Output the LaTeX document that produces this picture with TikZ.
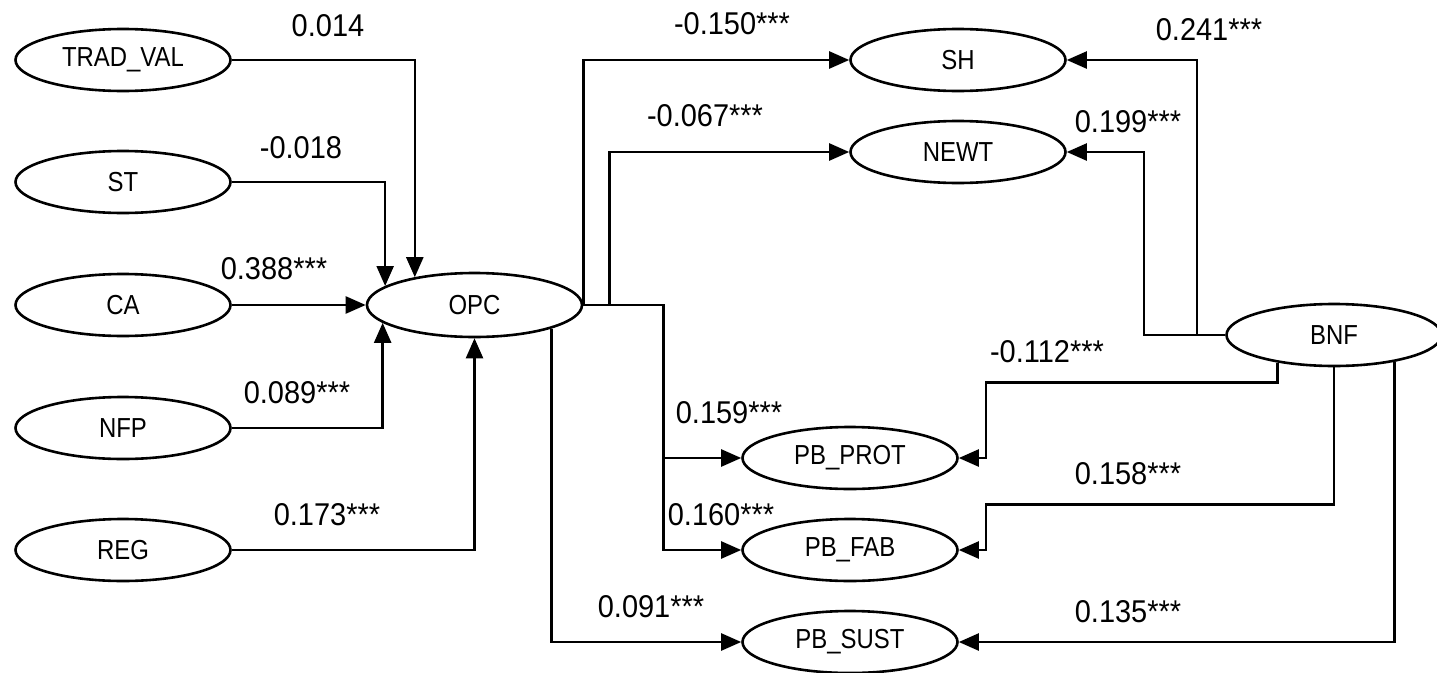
\documentclass[tikz,border=0pt]{standalone}
\usepackage{fontspec}
\setmainfont{Liberation Sans}
\newfontfamily\nodefont[FakeStretch=0.87]{Liberation Sans}
\newfontfamily\coeffont[FakeStretch=0.92]{Liberation Sans}
\usepackage{tikz}
\usetikzlibrary{shapes, arrows.meta, positioning, calc}

\tikzset{
  latent/.style={draw, ellipse, line width=2.6pt, minimum width=215pt, minimum height=62pt, inner sep=0pt, font=\nodefont\fontsize{27.5}{30}\selectfont},
  coef/.style={inner sep=0pt, font=\coeffont\fontsize{31.5}{34}\selectfont},
  link/.style={line width=2.4pt, -{Triangle[length=20pt,width=17pt]}},
}

\begin{document}
\begin{tikzpicture}[x=1pt, y=-1pt]
  \useasboundingbox (0,0) rectangle (1437,672);

  \node[latent] (trad) at (123,60) {TRAD\_VAL};
  \node[latent] (st) at (123,182) {ST};
  \node[latent] (ca) at (123,305) {CA};
  \node[latent] (nfp) at (123,428) {NFP};
  \node[latent] (reg) at (123,550) {REG};
  \node[latent, minimum height=64pt] (opc) at (474.5,305) {OPC};
  \node[latent] (sh) at (958,60) {SH};
  \node[latent] (newt) at (958,152) {NEWT};
  \node[latent] (bnf) at (1334,335) {BNF};
  \node[latent] (pbprot) at (850,458) {PB\_PROT};
  \node[latent] (pbfab) at (850,550) {PB\_FAB};
  \node[latent] (pbsust) at (850,642) {PB\_SUST};

  \draw[link] (trad.east) -| (opc.155);
  \draw[link] (st.east) -| (opc.168);
  \draw[link] (ca.east) -- (opc.west);
  \draw[link] (nfp.east) -| (opc.191);
  \draw[link] (reg.east) -| (opc.south);

  \draw[link] (opc.east) |- (sh.west);
  \draw[link] (opc.east) -- ++(26,0) |- (newt.west);
  \draw[link] (opc.east) -- ++(80,0) |- (pbprot.west);
  \draw[link] (opc.east) -- ++(80,0) |- (pbfab.west);
  \draw[link] (opc.343) |- (pbsust.west);

  \draw[link] (bnf.west) -- ++(-28,0) |- (sh.east);
  \draw[link] (bnf.west) -- ++(-81,0) |- (newt.east);
  \draw[link] (bnf.206) -- ++(0,20) -| ([xshift=27pt]pbprot.east) -- (pbprot.east);
  \draw[link] (bnf.south) -- ++(0,137) -| ([xshift=27pt]pbfab.east) -- (pbfab.east);
  \draw[link] (bnf.336) |- (pbsust.east);

  \node[coef] (c-trad) at (328,25.5) {0.014};
  \node[coef] (c-st) at (301,147.5) {-0.018};
  \node[coef] (c-ca) at (274,269) {0.388***};
  \node[coef] (c-nfp) at (297,393) {0.089***};
  \node[coef] (c-reg) at (327,515) {0.173***};
  \node[coef] (c-sh) at (732,24) {-0.150***};
  \node[coef] (c-newt) at (705,116) {-0.067***};
  \node[coef] (c-bsh) at (1209,30) {0.241***};
  \node[coef] (c-bnewt) at (1128,122) {0.199***};
  \node[coef] (c-bprot) at (1047,352) {-0.112***};
  \node[coef] (c-prot) at (729,413) {0.159***};
  \node[coef] (c-fab) at (721,515) {0.160***};
  \node[coef] (c-sust) at (651,607) {0.091***};
  \node[coef] (c-bfab) at (1128,474) {0.158***};
  \node[coef] (c-bsust) at (1128,612) {0.135***};
\end{tikzpicture}
\end{document}
